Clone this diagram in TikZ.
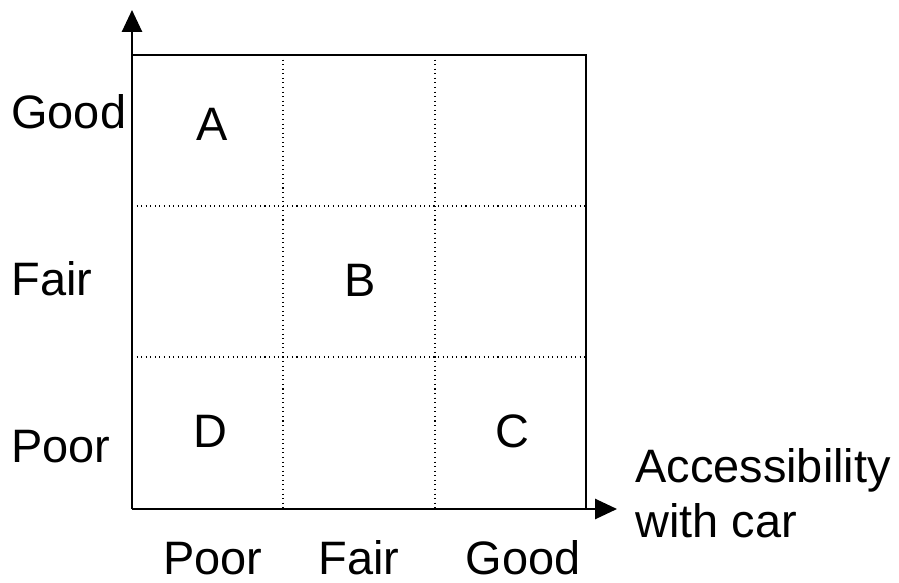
\documentclass[tikz,border=0pt]{standalone}
\usepackage{fontspec}
\setmainfont{Liberation Sans}
\usetikzlibrary{arrows.meta,positioning,calc}

\begin{document}
\begin{tikzpicture}[
  x=0.02cm, y=-0.02cm,
  lbl/.style={inner sep=0pt, font=\fontsize{26.7}{31.2}\selectfont},
  axis/.style={-{Triangle[length=12.5pt, width=11.5pt]}, line width=1.1pt},
  frame/.style={line width=1.1pt},
  grid/.style={dotted, line width=0.6pt}
]
  \useasboundingbox (0,0) rectangle (899,582);

  % corners of the matrix
  \coordinate (o) at (132,509);
  \coordinate (ytip) at (132,10);
  \coordinate (xtip) at (617,509);
  \coordinate (tl) at (132,55);
  \coordinate (tr) at (586,55);
  \coordinate (br) at (586,509);

  \draw[grid] (283,55) -- (283,509);
  \draw[grid] (435,55) -- (435,509);
  \draw[grid] (132,206) -- (586,206);
  \draw[grid] (132,357) -- (586,357);

  \draw[frame] (tl) -- (tr) -- (br);
  \draw[axis] (o) -- (ytip);
  \draw[axis] (o) -- (xtip);

  % row labels
  \node[lbl, anchor=base west] (ygood) at (11,128) {Good};
  \node[lbl, anchor=base west] (yfair) at (11,295) {Fair};
  \node[lbl, anchor=base west] (ypoor) at (11,462) {Poor};

  % column labels
  \node[lbl, anchor=base] (xpoor) at (213,574) {Poor};
  \node[lbl, anchor=base] (xfair) at (359,574) {Fair};
  \node[lbl, anchor=base] (xgood) at (523,574) {Good};

  \node[lbl, anchor=base west, align=left] (xname) at (635,537)
    {Accessibility\\with car};

  % cells
  \node[lbl, anchor=base] (cA) at (212,140) {A};
  \node[lbl, anchor=base] (cB) at (360,296) {B};
  \node[lbl, anchor=base] (cD) at (210,447) {D};
  \node[lbl, anchor=base] (cC) at (512,447) {C};
\end{tikzpicture}
\end{document}
